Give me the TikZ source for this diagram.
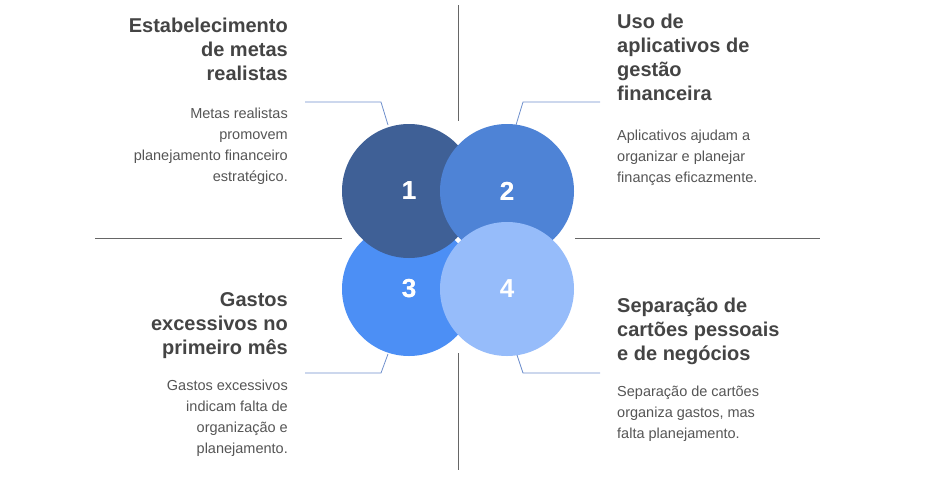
\documentclass[tikz,border=0pt]{standalone}
\usepackage{fontspec}
\setmainfont{Liberation Sans}
\definecolor{cA}{HTML}{3F6096}
\definecolor{cB}{HTML}{4E83D6}
\definecolor{cC}{HTML}{4C8FF5}
\definecolor{cD}{HTML}{96BCFA}
\definecolor{ttl}{HTML}{444444}
\definecolor{bdy}{HTML}{555555}
\definecolor{conn}{HTML}{6E8FCC}
\begin{document}
\begin{tikzpicture}[x=1pt,y=-1pt,
  circ/.style={circle,minimum size=134pt,inner sep=0pt,font=\bfseries\fontsize{26}{26}\selectfont,text=white},
  ttlL/.style={anchor=north east,align=right,font=\bfseries\fontsize{20}{24}\selectfont,text=ttl,inner sep=0pt},
  ttlR/.style={anchor=north west,align=left,font=\bfseries\fontsize{20}{24}\selectfont,text=ttl,inner sep=0pt},
  bdyL/.style={anchor=north east,align=right,font=\fontsize{14.5}{21}\selectfont,text=bdy,inner sep=0pt},
  bdyR/.style={anchor=north west,align=left,font=\fontsize{14.5}{21}\selectfont,text=bdy,inner sep=0pt},
  axis/.style={draw=gray!80!black,line width=1pt},
  cn/.style={draw=conn,line width=0.8pt}]
\useasboundingbox (0,0) rectangle (940,480);
\draw[axis] (458,5) coordinate(v1) -- (458,121) coordinate(v2);
\draw[axis] (458,353) coordinate(v3) -- (458,470) coordinate(v4);
\draw[axis] (95,238) coordinate(h1) -- (342,238) coordinate(h2);
\draw[axis] (575,238) coordinate(h3) -- (820,238) coordinate(h4);
\node[circ,fill=cC] (c3) at (409,289) {3};
\node[circ,fill=cA] (c1) at (409,191) {1};
\node[circ,fill=cB] (c2) at (507,191) {2};
\node[circ,fill=cD] (c4) at (507,289) {4};
\node at (c3) {\textcolor{white}{\bfseries\fontsize{26}{26}\selectfont 3}};
\node at (c1) {\textcolor{white}{\bfseries\fontsize{26}{26}\selectfont 1}};
\node at (c2) {\textcolor{white}{\bfseries\fontsize{26}{26}\selectfont 2}};
\coordinate (a1) at (305,102); \coordinate (b1) at (381,102); \coordinate (e1) at (388,125);
\coordinate (a2) at (600,102); \coordinate (b2) at (523,102); \coordinate (e2) at (516,125);
\coordinate (a3) at (305,373); \coordinate (b3) at (381,373); \coordinate (e3) at (388,354);
\coordinate (a4) at (600,373); \coordinate (b4) at (523,373); \coordinate (e4) at (517,355);
\draw[cn] (a1)--(b1)--(e1);
\draw[cn] (a2)--(b2)--(e2);
\draw[cn] (a3)--(b3)--(e3);
\draw[cn] (a4)--(b4)--(e4);
\node[ttlL] (t1) at (288,18) {Estabelecimento\\de metas\\realistas};
\node[bdyL] (d1) at (288,108) {Metas realistas\\promovem\\planejamento financeiro\\estratégico.};
\node[ttlR] (t2) at (617,14) {Uso de\\aplicativos de\\gestão\\financeira};
\node[bdyR] (d2) at (617,130) {Aplicativos ajudam a\\organizar e planejar\\finanças eficazmente.};
\node[ttlL] (t3) at (288,292) {Gastos\\excessivos no\\primeiro mês};
\node[bdyL] (d3) at (288,380) {Gastos excessivos\\indicam falta de\\organização e\\planejamento.};
\node[ttlR] (t4) at (617,298) {Separação de\\cartões pessoais\\e de negócios};
\node[bdyR] (d4) at (617,386) {Separação de cartões\\organiza gastos, mas\\falta planejamento.};
\end{tikzpicture}
\end{document}
